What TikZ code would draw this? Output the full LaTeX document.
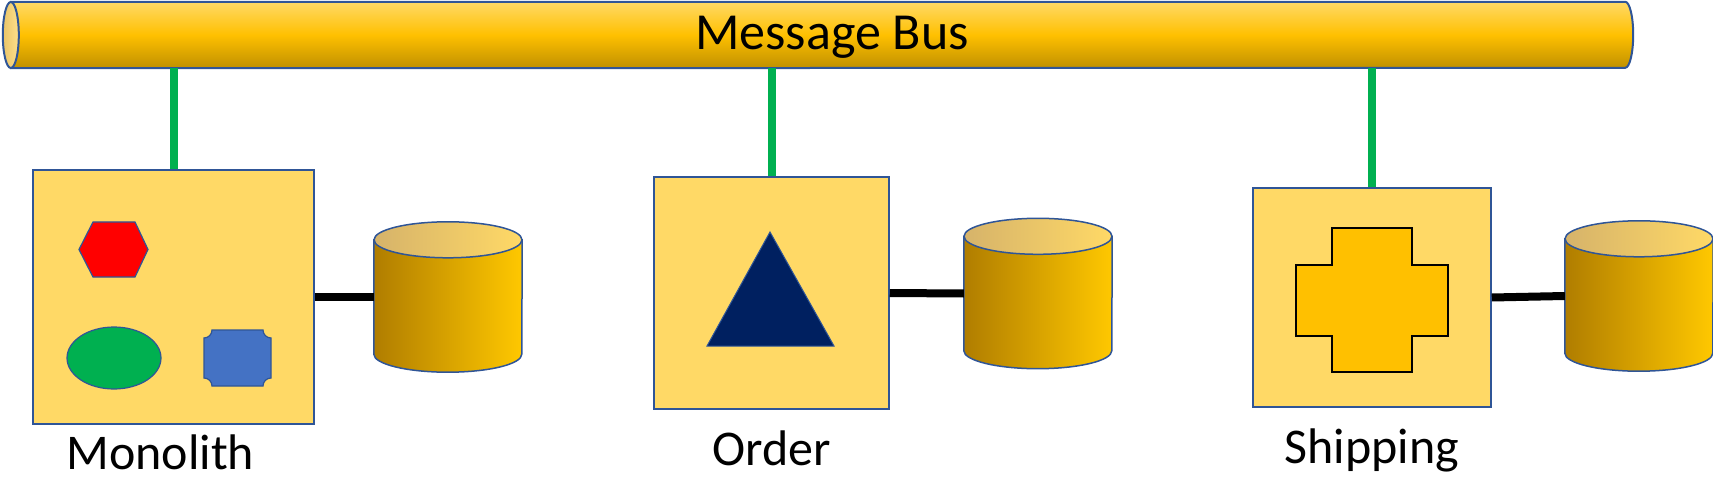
\documentclass[tikz,border=0pt]{standalone}
\usepackage{fontspec}
\setmainfont{Carlito}
\usetikzlibrary{calc,positioning}
\definecolor{outline}{HTML}{2F5597}
\definecolor{busA}{HTML}{FFD966}
\definecolor{busB}{HTML}{FFC000}
\definecolor{busC}{HTML}{BF9000}
\definecolor{capA}{HTML}{E9C46A}
\definecolor{capB}{HTML}{FFE08A}
\definecolor{boxfill}{HTML}{FFD966}
\definecolor{dbA}{HTML}{B07D00}
\definecolor{dbB}{HTML}{FFC800}
\definecolor{dbtopA}{HTML}{D6B36A}
\definecolor{dbtopB}{HTML}{FFD966}
\definecolor{linkgreen}{HTML}{00B050}
\definecolor{navy}{HTML}{002060}
\definecolor{plaque}{HTML}{4472C4}

\begin{document}
\begin{tikzpicture}[x=1pt,y=1pt,
    svc/.style={draw=outline,line width=1.5pt,fill=boxfill,inner sep=0pt},
    db/.style={inner sep=0pt,minimum width=148pt,minimum height=150pt},
    link/.style={line width=8pt,draw=linkgreen},
    wire/.style={line width=8pt,black},
    lbl/.style={font=\fontsize{50}{60}\selectfont,inner sep=0pt}]

\useasboundingbox (0,0) rectangle (1713,480);

% message bus
\node[inner sep=0pt,minimum width=1622pt,minimum height=66pt] (bus) at (822,445) {};
\path[top color=busA,bottom color=busC,middle color=busB,draw=outline,line width=2pt]
    (bus.north west) -- ($(bus.north east)+(-8,0)$) arc[start angle=90,end angle=-90,x radius=8pt,y radius=33pt]
    -- (bus.south west) -- cycle;
\path[left color=capA,right color=capB,draw=outline,line width=2pt] (bus.west) ellipse[x radius=8pt,y radius=33pt];
\node[font=\fontsize{52}{60}\selectfont,inner sep=0pt,anchor=base] (bus-lbl) at (832,430) {Message Bus};

% services
\node[svc,minimum width=281pt,minimum height=254pt] (mono) at (173.5,183) {};
\node[svc,minimum width=235pt,minimum height=232pt] (order) at (771.5,187) {};
\node[svc,minimum width=238pt,minimum height=219pt] (ship) at (1372,182.5) {};

% databases
\node[db] (mono-db) at (448,183) {};
\node[db] (order-db) at (1038,186.5) {};
\node[db] (ship-db) at (1639,184) {};

\foreach \d in {mono-db,order-db,ship-db} {
    \path[left color=dbA,right color=dbB,draw=outline,line width=1.5pt]
        ($(\d.north west)+(0,-18)$) -- ($(\d.south west)+(0,18)$)
        arc[start angle=180,end angle=360,x radius=74pt,y radius=18pt]
        -- ($(\d.north east)+(0,-18)$) -- cycle;
    \path[left color=dbtopA,right color=dbtopB,draw=outline,line width=1.5pt]
        ($(\d.north)+(0,-18)$) ellipse[x radius=74pt,y radius=18pt];
}

% connectors
\foreach \s in {mono,order,ship} {
    \draw[link] (bus.south -| \s.north) -- (\s.north);
    \draw[wire] (\s.east) -- (\s-db.west);
}

% labels
\node[lbl,below=45pt of mono.south,xshift=-13pt,anchor=base] (mono-lbl) {Monolith};
\node[lbl,below=56pt of order.south,anchor=base] (order-lbl) {Order};
\node[lbl,below=56pt of ship.south,anchor=base] (ship-lbl) {Shipping};

% monolith parts
\filldraw[fill=red,draw=outline,line width=1.2pt] (79,230.5) -- (93,258) -- (135,258) -- (148,230.5) -- (135,203) -- (93,203) -- cycle;
\filldraw[fill=linkgreen,draw=outline,line width=1.2pt] (114,122) ellipse[x radius=47pt,y radius=31pt];
\filldraw[fill=plaque,draw=outline,line width=1.2pt] (212,150) -- (263,150)
    arc[start angle=180,end angle=270,radius=8pt] -- (271,102)
    arc[start angle=90,end angle=180,radius=8pt] -- (212,94)
    arc[start angle=0,end angle=90,radius=8pt] -- (204,142)
    arc[start angle=270,end angle=360,radius=8pt] -- cycle;

% order part
\filldraw[fill=navy,draw=outline,line width=1pt] (770,248) -- (834,134) -- (707,134) -- cycle;

% shipping part
\filldraw[fill=busB,draw=black,line width=2.5pt] (1332,252) -- (1412,252) -- (1412,215) -- (1448,215)
    -- (1448,144) -- (1412,144) -- (1412,108) -- (1332,108) -- (1332,144) -- (1296,144)
    -- (1296,215) -- (1332,215) -- cycle;

\end{tikzpicture}
\end{document}
